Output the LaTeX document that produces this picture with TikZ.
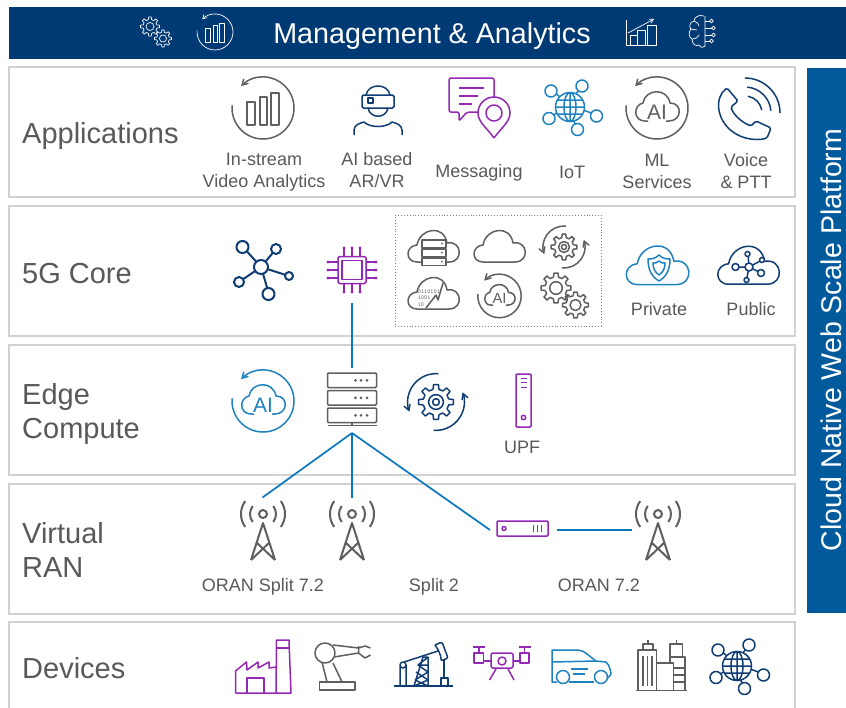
\documentclass[tikz,border=0pt]{standalone}
\usepackage{xcolor}
\usepackage{fontspec}
\setmainfont{Liberation Sans}
\usetikzlibrary{arrows,positioning}
\definecolor{barnavy}{HTML}{003A75}
\definecolor{sidebar}{HTML}{005A9C}
\definecolor{iconnavy}{HTML}{0F3D73}
\definecolor{iconblue}{HTML}{1F82C0}
\definecolor{iconpurple}{HTML}{9428B5}
\definecolor{icongray}{HTML}{5F5F5F}
\definecolor{txtgray}{HTML}{595959}
\definecolor{panelgray}{HTML}{D2D2D2}
\definecolor{linkblue}{HTML}{0A78BE}
\pgfdeclareverticalshading{panelfade}{100bp}{rgb(0bp)=(.93,.93,.93); rgb(6bp)=(1,1,1); rgb(94bp)=(1,1,1); rgb(100bp)=(.94,.94,.94)}
\newcommand\cogwheel[3]{
    \foreach \a in {0,45,...,315}{
        \draw[shift={(#1,#2)},rotate=\a] (-13:{.74*#3}) -- (-8:#3) -- (8:#3) -- (13:{.74*#3}) arc (13:32:{.74*#3});
    }
    \draw (#1,#2) circle ({.42*#3});
}
\newcommand\sat[3]{\draw[fill=white] (#1,#2) circle (#3);}
\tikzset{
    panel/.style={shade,shading=panelfade,draw=panelgray,line width=1.8pt,minimum width=786pt,inner sep=0pt},
    rowtitle/.style={font=\fontsize{29}{34}\selectfont,text=txtgray,align=left,anchor=west,inner sep=0pt},
    lbl/.style={font=\fontsize{18}{22}\selectfont,text=txtgray,align=center,inner sep=0pt},
    uplink/.style={draw=linkblue,line width=1.7pt},
    icon/.style={color=#1,line width=1.5pt,line join=round},
    boldicon/.style={color=#1,line width=2pt,line join=round},
    thinicon/.style={color=white,line width=.7pt,line join=round},
    >=angle 60,
    barsdial/.pic={
        \draw[<-] (225:31) arc (225:545:31);
        \draw (-16,-6) rectangle (-8,17) (-3,-11) rectangle (4,17) (8,-15) rectangle (16,17);
    },
    aidial/.pic={
        \draw[<-] (225:31) arc (225:545:31);
        \draw (-9,13) -- (-12,13) .. controls (-24,13) and (-24,-3) .. (-14,-5) .. controls (-12,-19) and (10,-21) .. (13,-5) .. controls (26,-5) and (25,13) .. (12,13) -- (9,13);
        \node[font=\fontsize{21}{21}\selectfont,transform shape,inner sep=0pt] (-ai) at (0,4) {AI};
    },
    vrperson/.pic={
        \draw (-12,-15) .. controls (-10,-27) and (10,-27) .. (12,-15);
        \draw[rounded corners=1.5] (-16,-15) rectangle (16,-2);
        \draw (-10,-12) rectangle (-5,-7);
        \draw (-10,-2) .. controls (-8,9) and (8,9) .. (10,-2);
        \draw (-24,25) -- (-24,20) .. controls (-24,15) and (-18,13) .. (-14,12) .. controls (-8,18) and (8,18) .. (14,12) .. controls (18,13) and (24,15) .. (24,20) -- (24,25);
    },
    msgpin/.pic={
        \draw[rounded corners=2] (23,-10) -- (23,-30) -- (-22,-30) -- (-22,4) -- (-12,4) -- (-12,13) -- (-4,4) -- (8,4);
        \draw (-12,-20) -- (13,-20) (-12,-12) -- (7,-12) (-12,-4) -- (1,-4);
        \draw[fill=white] (23,30) .. controls (16,20) and (7,14) .. (7,5) arc (180:360:16) .. controls (39,14) and (30,20) .. (23,30);
        \draw (23,5) circle (8);
    },
    iotglobe/.pic={
        \draw (-10,-10) -- (-18,-17) (5,-12) -- (13,-22) (13,3) -- (27,8) (3,13) -- (8,22) (-12,5) -- (-21,11);
        \sat{-19}{-16}{6} \sat{12}{-21}{6} \sat{26.5}{9}{6} \sat{7.5}{22.5}{6} \sat{-21}{11.5}{6}
        \draw[fill=white] (0,0) circle (14.5);
        \draw (0,0) ellipse (6 and 14.5) (-14.5,0) -- (14.5,0) (-12,-7) -- (12,-7) (-12,7) -- (12,7) (0,-14.5) -- (0,14.5);
    },
    phone/.pic={
        \draw[rounded corners=1.5] (-20,-20) .. controls (-33,-10) and (-30,12) .. (-14,24) .. controls (-4,31) and (10,33) .. (20,30) -- (24,20) -- (9,13) -- (4,18) .. controls (-6,14) and (-14,6) .. (-16,-1) -- (-9,-7) -- cycle;
        \draw (-2,5) ++(-90:35) arc (-90:0:35);
        \draw (-2,5) ++(-85:26) arc (-85:-5:26);
        \draw (-2,5) ++(-80:17) arc (-80:-10:17);
    },
    hubicon/.pic={
        \draw (0,0) -- (-18,-20) (0,0) -- (15,-18) (0,0) -- (28,9) (0,0) -- (8,27) (0,0) -- (-22,15);
        \sat{0}{0}{7} \sat{-18.5}{-20}{6} \sat{15}{-18}{5} \sat{28}{9}{4} \sat{7.5}{27}{6} \sat{-22}{15}{5}
    },
    chipicon/.pic={
        \draw[rounded corners=1.5] (-14,-13.5) rectangle (14,13.5);
        \draw (-10,-9.5) rectangle (10,9.5);
        \foreach \k in {-8,0,8}{
            \draw (\k,-14) -- (\k,-21) (\k,14) -- (\k,21) (-14,\k) -- (-23,\k) (14,\k) -- (23,\k);
            \fill (\k,-22) circle (1.6) (\k,22) circle (1.6) (-24,\k) circle (1.6) (24,\k) circle (1.6);
        }
    },
    cloudicon/.pic={
        \draw (-17,16) .. controls (-29,16) and (-29,0) .. (-17,-1) .. controls (-14,-18) and (10,-22) .. (13,-3) .. controls (28,-6) and (30,16) .. (15,16) -- cycle;
    },
    srvcloud/.pic={
        \draw[scale=.88] pic {cloudicon};
        \foreach \k in {-6,3,12}{
            \draw[fill=white] (-12,\k) rectangle (12,\k+7.5);
            \fill (8,\k+3.7) circle (1);
        }
    },
    datacloud/.pic={
        \pic {cloudicon};
        \node[font=\fontfamily{lmtt}\fontsize{6}{6.5}\selectfont,align=left,anchor=west,inner sep=0pt] (-bits) at (-17,5) {0110101\\1001\\10};
        \draw (-8,15) -- (2,2) -- (4,7) -- (9,-10);
    },
    gearcycle/.pic={
        \cogwheel{0}{0}{13}
        \draw (0,0) circle (2.5);
        \draw[->] (95:21) arc (95:-20:21);
        \draw[->] (-85:21) arc (-85:-200:21);
    },
    gearpair/.pic={
        \cogwheel{-7}{-6}{15}
        \cogwheel{12.5}{11}{13}
    },
    shieldicon/.pic={
        \draw (0,-13) .. controls (-4,-9) and (-8,-9) .. (-11,-9) .. controls (-11,2) and (-7,9) .. (0,13) .. controls (7,9) and (11,2) .. (11,-9) .. controls (8,-9) and (4,-9) .. (0,-13);
        \draw (0,-7) .. controls (-2,-5) and (-4,-5) .. (-6,-5) .. controls (-6,1) and (-4,4) .. (0,7) .. controls (4,4) and (6,1) .. (6,-5) .. controls (4,-5) and (2,-5) .. (0,-7);
    },
    cloudhub/.pic={
        \draw (0,0) -- (-1,-13) (0,0) -- (13,-7) (0,0) -- (12,6) (0,0) -- (-2.5,13) (0,0) -- (-13,0);
        \sat{0}{0}{4} \sat{-1.5}{-13}{2.5} \sat{13}{-7}{2.5} \sat{12}{6}{3.5} \sat{-2.5}{13}{2.5} \sat{-13.5}{0}{3.5}
    },
    serverstack/.pic={
        \foreach \k in {373,390.5,408}{
            \draw[rounded corners=1] (-24.5,\k-400) rectangle (24.5,\k-385.5);
            \fill (3.5,\k-392.7) circle (1.5) (9,\k-392.7) circle (1.5) (15,\k-392.7) circle (1.5);
        }
        \draw (0,22) -- (0,25.5) (-24.5,25.5) -- (24.5,25.5);
    },
    upfbox/.pic={
        \draw[rounded corners=1] (-7.5,-26.5) rectangle (7.5,26.5);
        \draw (-3,-22) -- (3,-22) (-3,-18) -- (3,-18) (-3,-13) -- (3,-13);
        \draw (0,17) circle (2.2);
    },
    towericon/.pic={
        \draw (0,0) circle (4);
        \draw (0,0) ++(-38:13) arc (-38:38:13) (0,0) ++(142:13) arc (142:218:13);
        \draw (0,0) ++(-36:22) arc (-36:36:22) (0,0) ++(144:22) arc (144:216:22);
        \draw (-12,46) -- (0,9) -- (12,46) (-7,28) -- (12,46) (7,28) -- (-12,46);
    },
    rubox/.pic={
        \draw[rounded corners=1] (-25.5,-7.5) rectangle (25.5,7.5);
        \draw (-18.5,0) circle (2);
        \draw (11,-3.5) -- (11,3.5) (15,-3.5) -- (15,3.5) (19,-3.5) -- (19,3.5);
    },
    factory/.pic={
        \draw (-27.5,26) -- (-27.5,4) -- (-16.5,-5) -- (-16,3) -- (-5,-5) -- (-5,1) -- (6,-5) -- (6,1) -- (13,0);
        \draw (-27.5,26) -- (28,26) -- (26,-27) -- (13.5,-27) -- (13,26);
        \draw (13.5,-19) -- (26,-19);
        \draw (-16,26) -- (-16,11) -- (1,11) -- (1,26);
    },
    robotarm/.pic={
        \draw (-12,-13) circle (10);
        \draw (-4,-21) -- (21.5,-18) (-3,-9) -- (21.5,-13) (21.5,-20) -- (21.5,-12);
        \draw (21.5,-18) -- (28,-20) -- (33.5,-18) (21.5,-13) -- (28,-8) -- (33.5,-11);
        \draw (-15,-4) -- (-10,16) (-4,-3) -- (5,16);
        \draw (-17.5,16) rectangle (18,24);
    },
    pumpjack/.pic={
        \draw (-29.5,20) -- (29.5,20);
        \draw (-23,20) -- (-23,-1) (-17,20) -- (-17,-1) (-20,-1) circle (3);
        \draw (-19,-4) -- (15,-15);
        \draw[rounded corners=2] (12,-21) -- (19,-24) -- (25,-8) -- (18,-5) .. controls (18,-11) and (15,-17) .. (12,-21);
        \draw (21,-6) -- (21,12) (18,20) -- (18,12) -- (25,12) -- (25,20);
        \draw (-9,20) -- (0,-9) -- (5,-9) -- (5,20);
        \draw (-8,14) -- (5,6) -- (-5,-1) -- (4,-8) (-8,14) -- (5,20) (5,14) -- (-9,20) (-7,6) -- (5,14) (-5,-1) -- (5,-1);
    },
    droneicon/.pic={
        \draw[rounded corners=2] (-11,-9) rectangle (11,6);
        \draw (0,-1) circle (4);
        \draw (-28,-9) rectangle (-18.5,1) (18,-9) rectangle (27,1);
        \draw (-23,-9) -- (-23,-15) (-29,-15) -- (-17,-15) (22.5,-9) -- (22.5,-15) (16.5,-15) -- (28.5,-15);
        \draw (-18.5,-1) -- (-11,-1) (11,-1) -- (18,-1);
        \draw (-6,7) -- (-12.5,18) (6,7) -- (12,18);
    },
    vanicon/.pic={
        \draw (-24,16) -- (-29,16) -- (-29,-16) -- (-3,-16) .. controls (3,-16) and (9,-9) .. (15,-5) -- (25,-4) .. controls (28,-2) and (30,6) .. (30,8) -- (27,12);
        \draw (-29,-4) -- (15,-5);
        \draw (-10,3) -- (7,3) (-8,8) -- (4,8);
        \draw (-12,16) -- (13,16);
        \draw (-18,11) circle (6.5) (20,11) circle (6.5);
    },
    towersicon/.pic={
        \draw (-25.5,25.5) -- (25.5,25.5);
        \draw (-23,25.5) -- (-23,-15) -- (-4.5,-15) -- (-4.5,25.5);
        \draw (-18,-15) -- (-18,-21) -- (-8,-21) -- (-8,-15) (-13,-21) -- (-13,-25);
        \draw (-18,-9) -- (-18,21) (-13.5,-9) -- (-13.5,21) (-9,-9) -- (-9,21);
        \draw (-4.5,-2) -- (12.5,-2) -- (12.5,25.5);
        \draw (9,-2) -- (9,-8) -- (24,-8) -- (24,25.5);
        \draw (9,-8) -- (9,-21) -- (21.5,-21) -- (21.5,-8) (15.5,-21) -- (15.5,-25);
        \draw (12.5,3) -- (24,3) (12.5,10) -- (24,10) (12.5,17) -- (24,17);
    },
    gearsmall/.pic={
        \cogwheel{-6}{-5.5}{9.5}
        \cogwheel{7}{6.5}{8.5}
    },
    growth/.pic={
        \draw (-15,-12) -- (-15,13) -- (16,13);
        \draw (-11,13) -- (-11,3) -- (-4,3) -- (-4,13) (-4,13) -- (-4,-2) -- (4,-2) -- (4,13) (6,13) -- (6,-7) -- (15,-7) -- (15,13);
        \draw[->] (-13,1) -- (13,-13);
    },
    brainicon/.pic={
        \draw (2,-16) .. controls (-4,-18) and (-8,-14) .. (-8,-11) .. controls (-13,-10) and (-13,-4) .. (-11,-3) .. controls (-14,0) and (-13,6) .. (-10,7) .. controls (-10,12) and (-6,15) .. (-3,13) .. controls (-1,16) and (2,16) .. (3,14) -- (3,-16);
        \draw (-8,-11) .. controls (-5,-10) and (-3,-8) .. (-3,-6) (-11,-3) -- (-5,-2) (-10,7) .. controls (-6,7) and (-4,5) .. (-3,3);
        \draw (3,-11) -- (8,-11) (3,-4) -- (10,-4) (3,3) -- (10,3) (3,9) -- (8,9);
        \draw (9.5,-11) circle (1.8) (11.5,-4) circle (1.8) (11.5,3) circle (1.8) (9.5,9) circle (1.8);
    }
}
\begin{document}
\begin{tikzpicture}[x=1pt,y=-1pt]
    \useasboundingbox (0,0) rectangle (846,707);

    % bands
    \node[fill=barnavy,minimum width=837pt,minimum height=52pt,inner sep=0pt] (mgmt) at (427.5,33) {};
    \node[font=\fontsize{28.7}{34}\selectfont,text=white,inner sep=0pt] (mgmttext) at (432,36) {Management \& Analytics};
    \node[fill=sidebar,minimum width=39pt,minimum height=545pt,inner sep=0pt] (platform) at (826.5,340.5) {};
    \node[font=\fontsize{28.5}{34}\selectfont,text=white,rotate=90,inner sep=0pt] (platformtext) at (831.5,340) {Cloud Native Web Scale Platform};
    \node[panel,minimum height=130pt] (appsbox) at (402,132) {};
    \node[panel,minimum height=130pt] (corebox) at (402,271) {};
    \node[panel,minimum height=130pt] (edgebox) at (402,410) {};
    \node[panel,minimum height=130pt] (ranbox) at (402,549) {};
    \node[panel,minimum height=92pt] (devbox) at (402,668) {};

    % row titles
    \node[rowtitle] (appstitle) at (22,136) {Applications};
    \node[rowtitle] (coretitle) at (22,274) {5G Core};
    \node[rowtitle] (edgetitle) at (22,414) {Edge\\Compute};
    \node[rowtitle] (rantitle) at (22,550) {Virtual\\RAN};
    \node[rowtitle] (devtitle) at (22,668) {Devices};

    % labels
    \node[lbl] (videolbl) at (264,172) {In-stream\\Video Analytics};
    \node[lbl] (vrlbl) at (377,170) {AI based\\AR/VR};
    \node[lbl] (msglbl) at (479,173) {Messaging};
    \node[lbl] (iotlbl) at (572,172) {IoT};
    \node[lbl] (mllbl) at (657,171) {ML\\Services};
    \node[lbl] (voicelbl) at (746,171) {Voice\\\& PTT};
    \node[lbl] (privlbl) at (659,309) {Private};
    \node[lbl] (publbl) at (751,309) {Public};
    \node[lbl] (upflbl) at (522,447) {UPF};
    \node[lbl] (split72lbl) at (263,587) {ORAN Split 7.2};
    \node[lbl] (split2lbl) at (434,587) {Split 2};
    \node[lbl] (oranlbl) at (599,585) {ORAN 7.2};

    % management icons
    \pic[thinicon] at (156,32) {gearsmall};
    \pic[thinicon,scale=.58] at (215,32) {barsdial};
    \pic[thinicon] at (641,32) {growth};
    \pic[thinicon] at (702,32) {brainicon};

    % applications
    \pic[icon=icongray] at (263,108) {barsdial};
    \pic[icon=iconnavy] at (378,110) {vrperson};
    \pic[icon=iconpurple] at (471,108) {msgpin};
    \pic[icon=iconblue] at (570,107) {iotglobe};
    \pic (mlcloud) [icon=icongray] at (657,108) {aidial};
    \pic[icon=iconnavy] at (747,108) {phone};

    % 5G core
    \pic[boldicon=iconnavy] at (261,267) {hubicon};
    \pic[icon=iconpurple] at (352,270) {chipicon};
    \node[draw=gray,dotted,line width=.9pt,minimum width=206pt,minimum height=111pt,inner sep=0pt] (dashbox) at (498,270.5) {};
    \pic[icon=icongray] at (434,246) {srvcloud};
    \pic[icon=icongray] at (500,246) {cloudicon};
    \pic[icon=icongray] at (564,247) {gearcycle};
    \pic (bitcloud) [icon=icongray] at (434,293) {datacloud};
    \pic (corecloud) [icon=icongray,scale=.7] at (499.5,296) {aidial};
    \pic[icon=icongray] at (563,294) {gearpair};
    \pic[icon=iconblue,scale=1.22] at (658,265) {cloudicon};
    \pic[icon=iconblue] at (659,268) {shieldicon};
    \pic[icon=iconnavy,scale=1.2] at (749,265) {cloudicon};
    \pic[icon=iconnavy] at (749,267) {cloudhub};

    % edge compute
    \pic (edgecloud) [icon=iconblue] at (263,401) {aidial};
    \pic[icon=icongray] at (352,400) {serverstack};
    \pic[icon=iconnavy,scale=1.35] at (436,402) {gearcycle};
    \pic[icon=iconpurple] at (523.5,400.5) {upfbox};

    % virtual ran
    \pic[boldicon=icongray] at (263,514) {towericon};
    \pic[boldicon=icongray] at (352,514) {towericon};
    \pic[icon=iconpurple] at (522.5,528.5) {rubox};
    \pic[boldicon=icongray] at (658,514) {towericon};

    % devices
    \pic[icon=iconpurple] at (263,667) {factory};
    \pic[icon=icongray] at (337,666) {robotarm};
    \pic[icon=iconnavy] at (423,666) {pumpjack};
    \pic[icon=iconpurple] at (502,662) {droneicon};
    \pic[icon=iconblue] at (581,666) {vanicon};
    \pic[icon=icongray] at (661,665) {towersicon};
    \pic[icon=iconnavy] at (737,666) {iotglobe};

    % links
    \coordinate (chipend) at (352,303);
    \coordinate (srvtop) at (352,368);
    \coordinate (srvend) at (352,433);
    \coordinate (towerA) at (262.5,497.5);
    \coordinate (towerB) at (352,497.5);
    \coordinate (ruleft) at (490,530);
    \coordinate (ruright) at (557,530);
    \coordinate (towerC) at (632,530);
    \draw[uplink] (chipend) -- (srvtop);
    \draw[uplink] (srvend) -- (towerA);
    \draw[uplink] (srvend) -- (towerB);
    \draw[uplink] (srvend) -- (ruleft);
    \draw[uplink] (ruright) -- (towerC);
\end{tikzpicture}
\end{document}
